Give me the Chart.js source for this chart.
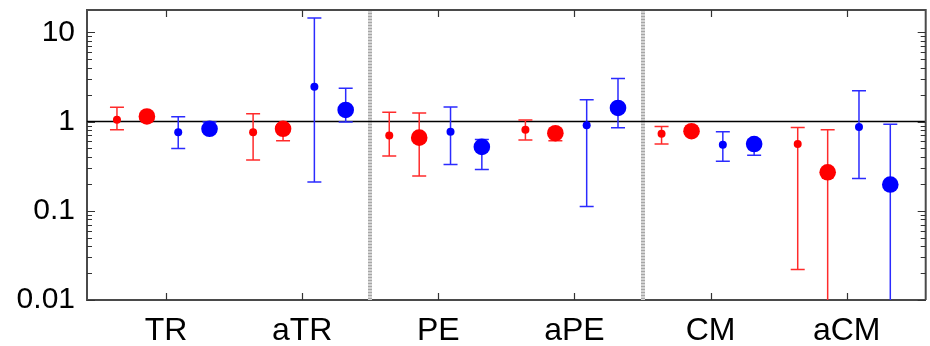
<!DOCTYPE html>
<html>
<head>
<meta charset="utf-8">
<script src="https://cdn.jsdelivr.net/npm/chart.js@4.4.1/dist/chart.umd.min.js"></script>
<style>
  html, body { margin: 0; padding: 0; background: #fff; overflow: hidden; }
  canvas { display: block; }
</style>
</head>
<body>
<canvas id="ratios" width="934" height="346"></canvas>
<script>
// categories on the x axis, one integer slot each
const categories = ['TR', 'aTR', 'PE', 'aPE', 'CM', 'aCM'];
const groupBreaks = [2.5, 4.5];
const yTicks = [0.01, 0.1, 1, 10];

// horizontal shift of each series inside a category slot
const seriesOffsets = [-0.36, -0.14, 0.09, 0.32];

// small red markers
const smallRed   = [1.05, 0.76, 0.70, 0.81, 0.73, 0.56];
const smallRedLo = [0.81, 0.37, 0.41, 0.62, 0.56, 0.022];
const smallRedHi = [1.45, 1.22, 1.27, 1.04, 0.88, 0.86];

// large red markers
const largeRed   = [1.14, 0.83, 0.66, 0.74, 0.78, 0.27];
const largeRedLo = [1.05, 0.61, 0.245, 0.61, 0.72, 0.005];
const largeRedHi = [1.24, 0.92, 1.25, 0.82, 0.84, 0.81];

// small blue markers
const smallBlue   = [0.76, 2.45, 0.77, 0.91, 0.55, 0.87];
const smallBlueLo = [0.50, 0.21, 0.33, 0.112, 0.36, 0.23];
const smallBlueHi = [1.13, 14.5, 1.46, 1.76, 0.77, 2.22];

// large blue markers
const largeBlue   = [0.83, 1.35, 0.52, 1.42, 0.56, 0.197];
const largeBlueLo = [0.76, 0.99, 0.29, 0.85, 0.42, 0.005];
const largeBlueHi = [0.99, 2.36, 0.63, 3.03, 0.62, 0.93];

const FONT = "'Liberation Sans', Arial, sans-serif";

function makeSeries(values, lo, hi, offset, color, barColor, radius) {
  return {
    data: values.map((v, i) => ({ x: i + 1 + offset, y: v, lo: lo[i], hi: hi[i] })),
    backgroundColor: color,
    borderWidth: 0,
    pointRadius: radius,
    pointHoverRadius: radius,
    errColor: barColor
  };
}

const datasets = [
  makeSeries(smallRed, smallRedLo, smallRedHi, seriesOffsets[0], '#ff0000', '#ff2b2b', 4),
  makeSeries(largeRed, largeRedLo, largeRedHi, seriesOffsets[1], '#ff0000', '#ff2b2b', 8.3),
  makeSeries(smallBlue, smallBlueLo, smallBlueHi, seriesOffsets[2], '#0000ff', '#2b2bff', 4),
  makeSeries(largeBlue, largeBlueLo, largeBlueHi, seriesOffsets[3], '#0000ff', '#2b2bff', 8.3)
];

// axis labels must not push the plot area inwards
function noLabelPadding(s) {
  s.paddingTop = 0;
  s.paddingBottom = 0;
  s.paddingLeft = 0;
  s.paddingRight = 0;
}

// separators, unity line and error bars, under the markers
const underlay = {
  id: 'underlay',
  beforeDatasetsDraw(chart) {
    const { ctx, chartArea: a, scales: { x, y } } = chart;
    ctx.save();
    ctx.beginPath();
    ctx.rect(a.left, a.top, a.right - a.left, a.bottom - a.top);
    ctx.clip();

    groupBreaks.forEach(b => {
      const px = Math.round(x.getPixelForValue(b));
      ctx.setLineDash([]);
      ctx.strokeStyle = '#d4d4d4';
      ctx.lineWidth = 4;
      ctx.beginPath();
      ctx.moveTo(px, a.top);
      ctx.lineTo(px, a.bottom);
      ctx.stroke();
      ctx.setLineDash([1, 2]);
      ctx.strokeStyle = '#a6a6a6';
      ctx.beginPath();
      ctx.moveTo(px, a.top);
      ctx.lineTo(px, a.bottom);
      ctx.stroke();
    });
    ctx.setLineDash([]);

    // reference line at 1
    const y1 = y.getPixelForValue(1);
    ctx.strokeStyle = '#000';
    ctx.lineWidth = 1.5;
    ctx.beginPath();
    ctx.moveTo(a.left, y1);
    ctx.lineTo(a.right, y1);
    ctx.stroke();

    // error bars with caps
    const cap = 7;
    chart.data.datasets.forEach(ds => {
      ctx.strokeStyle = ds.errColor;
      ctx.lineWidth = 1.5;
      ds.data.forEach(p => {
        const px = x.getPixelForValue(p.x);
        const top = y.getPixelForValue(p.hi);
        const bot = y.getPixelForValue(p.lo);
        ctx.beginPath();
        ctx.moveTo(px, top);
        ctx.lineTo(px, bot);
        ctx.moveTo(px - cap, top);
        ctx.lineTo(px + cap, top);
        ctx.moveTo(px - cap, bot);
        ctx.lineTo(px + cap, bot);
        ctx.stroke();
      });
    });
    ctx.restore();
  }
};

// box frame and inward ticks on all four sides
const frame = {
  id: 'frame',
  afterDraw(chart) {
    const { ctx, chartArea: a, scales: { x, y } } = chart;
    ctx.save();
    ctx.strokeStyle = '#4a4a4a';
    ctx.lineWidth = 2;
    ctx.beginPath();
    ctx.moveTo(a.left, a.top);
    ctx.lineTo(a.right, a.top);
    ctx.lineTo(a.right, a.bottom);
    ctx.stroke();

    ctx.lineWidth = 1.2;
    ctx.strokeStyle = '#333';
    ctx.beginPath();
    for (let d = 0.01; d < 100; d *= 10) {
      for (let m = 1; m <= 9; m++) {
        const v = d * m;
        if (v < y.min || v > y.max) continue;
        const py = Math.round(y.getPixelForValue(v)) + 0.5;
        const len = m === 1 ? 8 : 5;
        ctx.moveTo(a.left, py);
        ctx.lineTo(a.left + len, py);
        ctx.moveTo(a.right, py);
        ctx.lineTo(a.right - len, py);
      }
    }
    categories.forEach((c, i) => {
      const px = Math.round(x.getPixelForValue(i + 1)) + 0.5;
      ctx.moveTo(px, a.top);
      ctx.lineTo(px, a.top + 7);
      ctx.moveTo(px, a.bottom);
      ctx.lineTo(px, a.bottom - 7);
    });
    ctx.stroke();
    ctx.restore();
  }
};

new Chart(document.getElementById('ratios'), {
  type: 'scatter',
  data: { datasets },
  options: {
    responsive: false,
    animation: false,
    events: [],
    layout: { padding: { top: 10, right: 1, left: 0, bottom: 0 } },
    plugins: { legend: { display: false }, tooltip: { enabled: false } },
    scales: {
      x: {
        type: 'linear',
        bounds: 'data',
        min: 0.42,
        max: 6.58,
        afterBuildTicks: s => { s.ticks = categories.map((c, i) => ({ value: i + 1 })); },
        afterFit: s => { s.height = 46; noLabelPadding(s); },
        grid: { display: false, drawTicks: false },
        border: { display: true, color: '#4a4a4a', width: 2 },
        ticks: {
          padding: 12,
          color: '#000',
          font: { family: FONT, size: 32 },
          maxRotation: 0,
          callback: v => categories[v - 1]
        }
      },
      y: {
        type: 'logarithmic',
        bounds: 'data',
        min: 0.01,
        max: 17.8,
        afterBuildTicks: s => { s.ticks = yTicks.map(v => ({ value: v })); },
        afterFit: s => { s.width = 87; noLabelPadding(s); },
        grid: { display: false, drawTicks: false },
        border: { display: true, color: '#4a4a4a', width: 2 },
        ticks: {
          padding: 12,
          color: '#000',
          font: { family: FONT, size: 30 },
          callback: v => String(v)
        }
      }
    }
  },
  plugins: [underlay, frame]
});
</script>
</body>
</html>
